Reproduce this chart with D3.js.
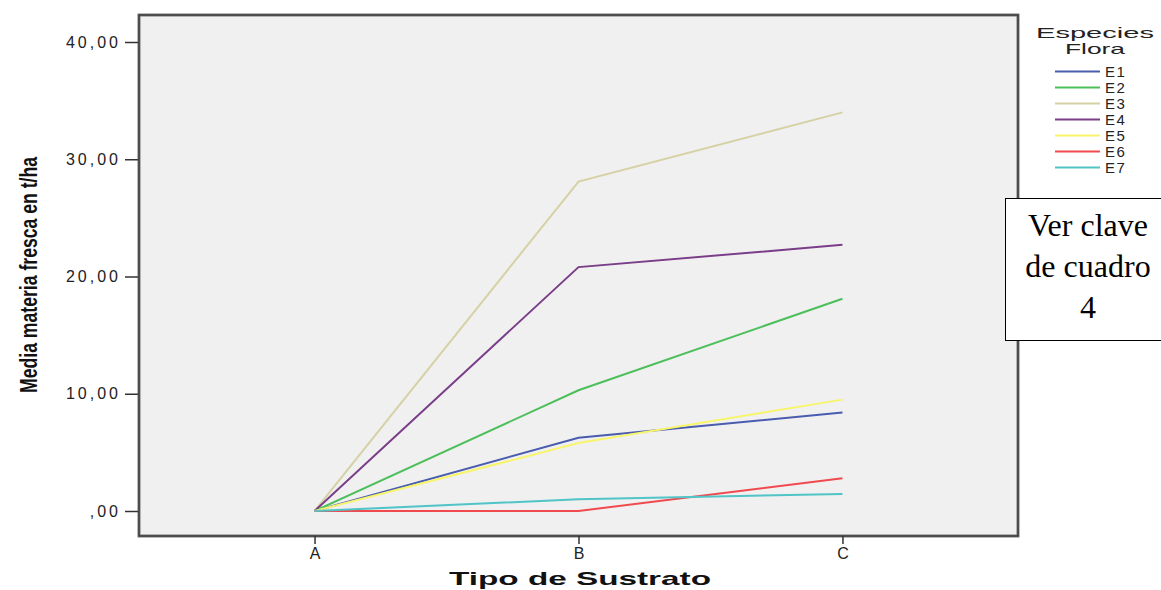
<!DOCTYPE html>
<html><head><meta charset="utf-8">
<script src="https://cdn.jsdelivr.net/npm/d3@7"></script>
<style>body{margin:0;background:#fff}svg{display:block}</style>
</head><body>
<svg id="c" width="1161" height="590"></svg>
<script>
const categories = ["A", "B", "C"];
const seriesNames = ["E1", "E2", "E3", "E4", "E5", "E6", "E7"];
const E1 = [0, 6.25, 8.4];
const E2 = [0, 10.3, 18.1];
const E3 = [0, 28.1, 34.0];
const E4 = [0, 20.8, 22.7];
const E5 = [0, 5.8, 9.5];
const E6 = [0, 0, 2.8];
const E7 = [0, 1.0, 1.45];
const seriesValues = [E1, E2, E3, E4, E5, E6, E7];
const seriesColors = ["#4a5cae", "#4cbf5a", "#d6d1a5", "#7a3d88", "#f8f56c", "#f04a4e", "#50c4c6"];
const yTicks = [0, 10, 20, 30, 40];
const yTickLabels = [",00", "10,00", "20,00", "30,00", "40,00"];
const legendTitle = ["Especies", "Flora"];
const noteLines = ["Ver clave", "de cuadro", "4"];

const svg = d3.select("#c");
const L = 139, R = 1018, T = 15, B = 536;
const x = d3.scalePoint().domain(categories).range([L, R]).padding(0.665);
const y = d3.scaleLinear().domain([0, 40]).range([511, 42]);
const sans = "Liberation Sans, Arial, sans-serif";

svg.append("rect").attr("x", L).attr("y", T).attr("width", R - L).attr("height", B - T)
  .attr("fill", "#f0f0f0").attr("stroke", "none");

// lines
const line = d3.line().x((d, i) => x(categories[i])).y(d => y(d));
seriesValues.forEach((vals, k) => {
  svg.append("path").datum(vals).attr("d", line).attr("fill", "none")
    .attr("stroke", seriesColors[k]).attr("stroke-width", 2);
});

// frame
svg.append("rect").attr("x", L).attr("y", T).attr("width", R - L).attr("height", B - T)
  .attr("fill", "none").attr("stroke", "#777").attr("stroke-width", 3);
svg.append("rect").attr("x", L).attr("y", T).attr("width", R - L).attr("height", B - T)
  .attr("fill", "none").attr("stroke", "#333").attr("stroke-width", 1.2);

// y axis
const yAxis = d3.axisLeft(y).tickValues(yTicks).tickSize(13).tickPadding(4)
  .tickFormat((d, i) => yTickLabels[i]);
const gy = svg.append("g").attr("transform", `translate(${L - 1},0)`).call(yAxis);
gy.select(".domain").remove();
gy.selectAll(".tick line").attr("stroke", "#333").attr("stroke-width", 1.5);
gy.selectAll(".tick text").attr("font-family", sans)
  .attr("font-size", 16).attr("fill", "#222").attr("letter-spacing", "3px");

// x axis
const xAxis = d3.axisBottom(x).tickSize(8).tickPadding(4);
const gx = svg.append("g").attr("transform", `translate(0,${B})`).call(xAxis);
gx.select(".domain").remove();
gx.selectAll(".tick line").attr("stroke", "#333").attr("stroke-width", 1.5);
gx.selectAll(".tick text").attr("font-family", sans)
  .attr("font-size", 16).attr("fill", "#222");

// axis titles
svg.append("text").attr("x", 580).attr("y", 585).attr("text-anchor", "middle")
  .attr("font-family", sans).attr("font-weight", "bold")
  .attr("font-size", 19).attr("textLength", 262).attr("lengthAdjust", "spacingAndGlyphs")
  .attr("fill", "#111").text("Tipo de Sustrato");
svg.append("text").attr("transform", "translate(37,275) rotate(-90)").attr("text-anchor", "middle")
  .attr("font-family", sans).attr("font-weight", "bold").attr("font-size", 24)
  .attr("textLength", 236).attr("lengthAdjust", "spacingAndGlyphs")
  .attr("fill", "#111").text("Media materia fresca en t/ha");

// legend
const titleWidths = [118, 60];
legendTitle.forEach((t, i) => {
  svg.append("text").attr("x", 1095).attr("y", 38 + i * 15.5).attr("text-anchor", "middle")
    .attr("font-family", sans).attr("font-size", 15)
    .attr("textLength", titleWidths[i]).attr("lengthAdjust", "spacingAndGlyphs")
    .attr("fill", "#222").text(t);
});
seriesNames.forEach((n, i) => {
  const yy = 71.5 + i * 16;
  svg.append("line").attr("x1", 1055).attr("x2", 1100).attr("y1", yy).attr("y2", yy)
    .attr("stroke", seriesColors[i]).attr("stroke-width", 2);
  svg.append("text").attr("x", 1105).attr("y", yy + 5.5).attr("font-family", sans)
    .attr("font-size", 15).attr("letter-spacing", "1.5px").attr("fill", "#222").text(n);
});

// note box
svg.append("rect").attr("x", 1005.5).attr("y", 198.5).attr("width", 160).attr("height", 142)
  .attr("fill", "#fff").attr("stroke", "#000").attr("stroke-width", 1);
noteLines.forEach((t, i) => {
  svg.append("text").attr("x", 1088).attr("y", 236 + i * 41).attr("text-anchor", "middle")
    .attr("font-family", "Liberation Serif, Times New Roman, serif").attr("font-size", 32)
    .attr("fill", "#000").text(t);
});
</script>
</body></html>
